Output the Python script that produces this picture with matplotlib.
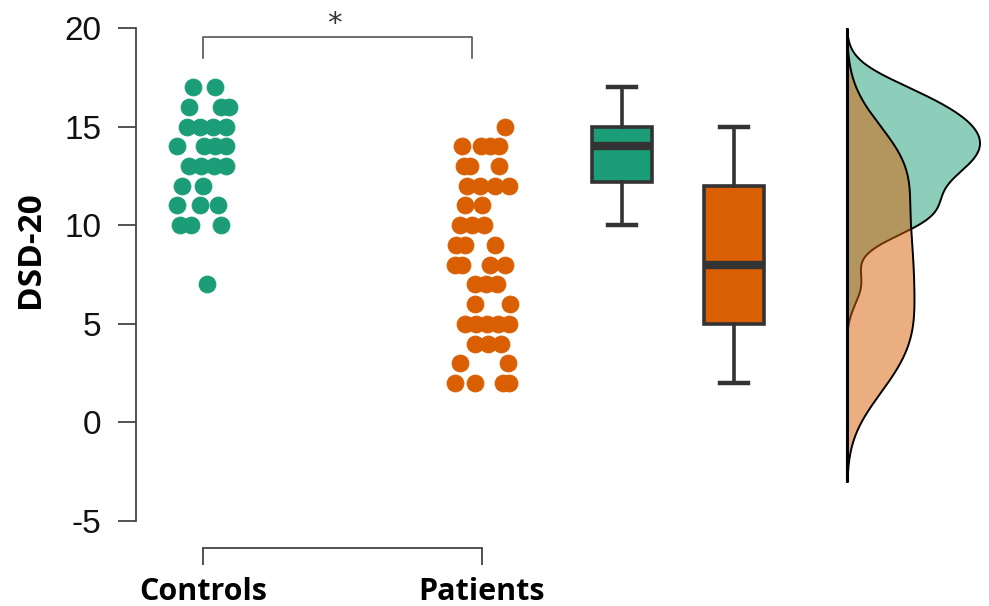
import numpy as np
import matplotlib
matplotlib.use("Agg")
import matplotlib.pyplot as plt

# ---- data ----
groups = ["Controls", "Patients"]
colors = ["#1B9E77", "#D95F02"]

controls_scores = [17, 17,
                   16, 16, 16,
                   15, 15, 15, 15,
                   14, 14, 14, 14,
                   13, 13, 13, 13,
                   12, 12,
                   11, 11, 11,
                   10, 10, 10,
                   7]
# horizontal jitter of each point (x units), same order as the scores
controls_jitter = [-0.036, 0.043,
                   -0.050, 0.065, 0.093,
                   -0.057, -0.011, 0.036, 0.082,
                   -0.093, 0.004, 0.043, 0.082,
                   -0.050, -0.007, 0.039, 0.082,
                   -0.075, 0.000,
                   -0.093, -0.011, 0.054,
                   -0.082, -0.043, 0.065,
                   0.014]

patients_scores = [15,
                   14, 14, 14, 14,
                   13, 13, 13,
                   12, 12, 12, 12,
                   11, 11,
                   10, 10, 10,
                   9, 9, 9,
                   8, 8, 8, 8,
                   7, 7, 7,
                   6, 6,
                   5, 5, 5, 5, 5,
                   4, 4, 4,
                   3, 3,
                   2, 2, 2, 2]
patients_jitter = [0.082,
                   -0.072, -0.004, 0.029, 0.061,
                   -0.065, -0.043, 0.061,
                   -0.054, -0.007, 0.047, 0.097,
                   -0.061, 0.000,
                   -0.079, -0.036, 0.007,
                   -0.093, -0.061, 0.047,
                   -0.097, -0.072, 0.029, 0.082,
                   -0.025, 0.014, 0.054,
                   -0.025, 0.100,
                   -0.061, -0.022, 0.018, 0.057, 0.097,
                   -0.025, 0.022, 0.068,
                   -0.079, 0.093,
                   -0.097, -0.025, 0.075, 0.097]

# box summaries: lower whisker, Q1, median, Q3, upper whisker
controls_box = [10, 12.2, 14, 15, 17]
patients_box = [2, 5, 8, 12, 15]

y_ticks = [-5, 0, 5, 10, 15, 20]
y_tick_labels = ["-5", "0", "5", "10", "15", "20"]
y_label = "DSD-20"
sig_label = "*"

# ---- layout ----
strip_pos = [0.0, 1.0]
box_pos = [1.502, 1.903]
box_width = 0.215
dens_base = 2.308
dens_max_width = 0.477
bandwidths = [1.0, 1.85]

fig = plt.figure(figsize=(9.89, 6.06), dpi=100)
ax = fig.add_axes([136 / 989, 85 / 606, 851 / 989, 493 / 606])
ax.set_xlim(-0.240, 2.81)
ax.set_ylim(-5, 20)

# strip (jittered dots)
for pos, vals, jit, col in zip(strip_pos,
                               [controls_scores, patients_scores],
                               [controls_jitter, patients_jitter], colors):
    ax.plot(pos + np.asarray(jit), vals, linestyle="none", marker="o",
            ms=12.2, mfc=col, mec=col, mew=0.6, zorder=3)

# box plots
stats = []
for b in [controls_box, patients_box]:
    stats.append(dict(whislo=b[0], q1=b[1], med=b[2], q3=b[3], whishi=b[4],
                      fliers=[]))
bp = ax.bxp(stats, positions=box_pos, widths=box_width, patch_artist=True,
            showfliers=False, capwidths=0.1,
            boxprops=dict(edgecolor="#333333", linewidth=2.6),
            medianprops=dict(color="#333333", linewidth=6, solid_capstyle="butt"),
            whiskerprops=dict(color="#333333", linewidth=2.6),
            capprops=dict(color="#333333", linewidth=3.2))
for patch, col in zip(bp["boxes"], colors):
    patch.set_facecolor(col)

# half densities
def kde(values, grid, bw):
    v = np.asarray(values, float)[:, None]
    z = (grid[None, :] - v) / bw
    return np.exp(-0.5 * z ** 2).sum(axis=0) / (len(v) * bw * np.sqrt(2 * np.pi))

grid = np.linspace(-3, 20, 500)
dens = [kde(vals, grid, bw) for vals, bw in
        zip([controls_scores, patients_scores], bandwidths)]
scale = dens_max_width / max(d.max() for d in dens)
for d, col in zip(dens, colors):
    ax.fill_betweenx(grid, dens_base, dens_base + d * scale, facecolor=col,
                     alpha=0.5, linewidth=0, zorder=2)
    ax.plot(dens_base + d * scale, grid, color="black", lw=1.4, zorder=2)
ax.plot([dens_base, dens_base], [-3, 20], color="black", lw=2.2, zorder=4,
        solid_capstyle="butt")

# significance bracket
ax.plot([0, 0, 0.964, 0.964], [18.5, 19.55, 19.55, 18.5], color="#555555",
        lw=1.2, clip_on=False)
ax.text(0.47, 20.2, sig_label, ha="center", va="center", fontsize=21,
        color="#333333", clip_on=False)

# axes styling
for s in ["top", "right"]:
    ax.spines[s].set_visible(False)
ax.spines["left"].set_color("#444444")
ax.spines["left"].set_linewidth(1.3)
ax.spines["bottom"].set_color("#444444")
ax.spines["bottom"].set_linewidth(1.3)
ax.spines["bottom"].set_position(("outward", 19.4))
ax.spines["bottom"].set_bounds(strip_pos[0], strip_pos[1])

ax.set_yticks(y_ticks)
ax.set_yticklabels(y_tick_labels, fontsize=24, family="Liberation Sans",
                   color="#111111")
ax.tick_params(axis="y", length=13, width=1.3, color="#444444", pad=12)
ax.set_xticks(strip_pos)
ax.set_xticklabels(groups, fontsize=22, family="Open Sans", fontweight="bold")
ax.tick_params(axis="x", length=12, width=1.3, color="#444444", pad=9)

ax.set_ylabel(y_label, fontsize=24, family="Open Sans", fontweight="bold")
ax.yaxis.set_label_coords(-0.105, 0.55)

fig.savefig("out.png", dpi=100)
